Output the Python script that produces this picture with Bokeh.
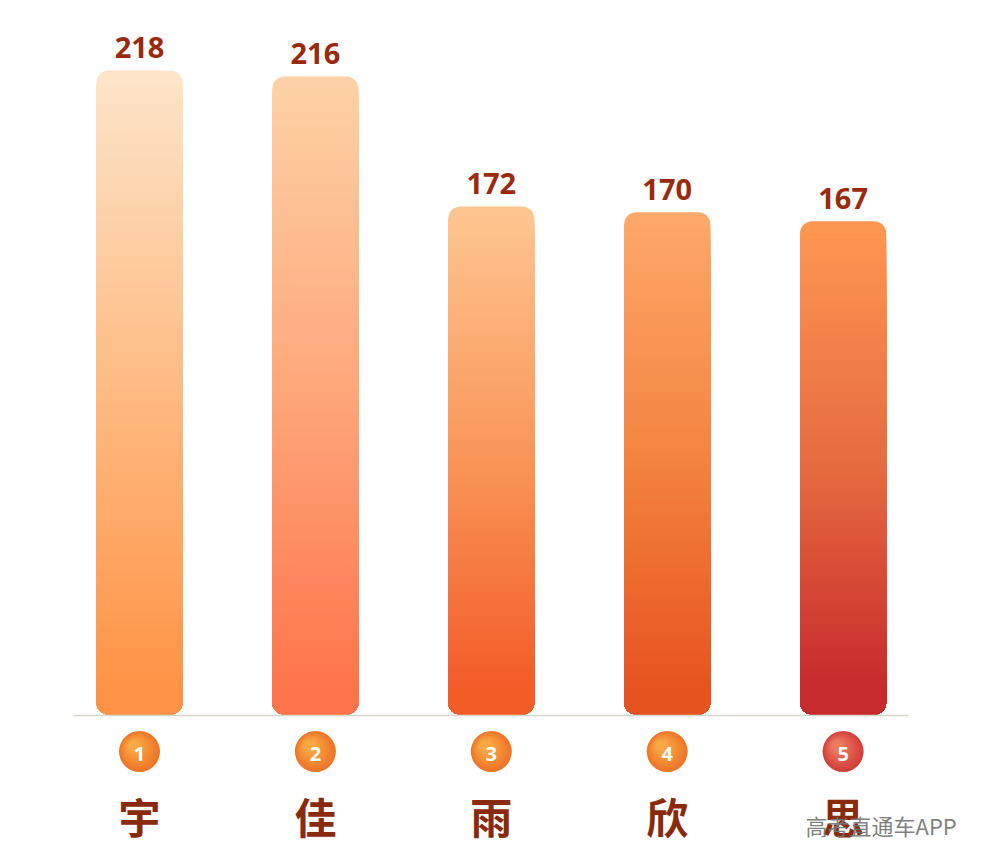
from bokeh.plotting import figure
from bokeh.embed import file_html
from bokeh.resources import INLINE
from bokeh.models import ColumnDataSource, Range1d
from bokeh.core.properties import value

# ---- data ----
names = ["宇", "佳", "雨", "欣", "思"]
ranks = ["1", "2", "3", "4", "5"]
scores = [218, 216, 172, 170, 167]
watermark = "高考直通车APP"

# ---- styles ----
bar_top = ["#FDE5CA", "#FDD2A6", "#FEC692", "#FEA96A", "#FE9852"]
bar_mid = ["#FEBA82", "#FEA67A", "#F99558", "#F3823F", "#E66A40"]
bar_bot = ["#FF9040", "#FF7048", "#F25522", "#E54E1C", "#C3232A"]
circ_edge = ["#EE7628", "#EE7628", "#EE7628", "#EE7628", "#D2403A"]
circ_hi = ["#F9A845", "#F9A845", "#F9A845", "#F9A845", "#EC7A60"]

W, H = 966, 848
X0_PX = 139.0        # pixel of first bar centre
DX_PX = 175.9        # pixels per category
Y0_PX = 714.0        # pixel (from top) of value 0
K = 2.954            # pixels per unit
BAR_W = 86 / DX_PX
RADIUS = 12


def hex2rgb(h):
    h = h.lstrip("#")
    return [int(h[i:i + 2], 16) for i in (0, 2, 4)]


def mix(c1, c2, t):
    a, b = hex2rgb(c1), hex2rgb(c2)
    return "#%02x%02x%02x" % tuple(int(round(a[i] + (b[i] - a[i]) * t)) for i in range(3))


def grad(i, f):
    # f: 0 at bottom, 1 at top
    if f >= 0.5:
        return mix(bar_mid[i], bar_top[i], (f - 0.5) / 0.5)
    return mix(bar_bot[i], bar_mid[i], f / 0.5)


p = figure(width=W, height=H, output_backend="svg", toolbar_location=None,
           x_range=Range1d(-X0_PX / DX_PX, (W - X0_PX) / DX_PX),
           y_range=Range1d(-(H - Y0_PX) / K, Y0_PX / K),
           min_border=0, min_border_left=0, min_border_right=0,
           min_border_top=0, min_border_bottom=0)
p.axis.visible = False
p.grid.visible = False
p.outline_line_color = None
p.background_fill_color = "white"
p.border_fill_color = "white"

xs = list(range(len(names)))

# full bars (top colour, all corners rounded)
p.vbar(x=xs, top=scores, bottom=0, width=BAR_W,
       fill_color=[grad(i, 0.99) for i in xs], line_color=None,
       border_radius=RADIUS)

# gradient slices
sx, st, sc = [], [], []
step = 3.0 / K
for i, v in enumerate(scores):
    t = v - RADIUS / K
    while t > 2 * RADIUS / K:
        sx.append(i)
        st.append(t)
        sc.append(grad(i, (t - step / 2) / v))
        t -= step
src = ColumnDataSource(dict(x=sx, top=st, color=sc))
p.vbar(x="x", top="top", bottom=0, width=BAR_W, source=src,
       fill_color="color", line_color=None,
       border_radius=(0, 0, RADIUS, RADIUS))

# base line
p.segment(x0=[(73 - X0_PX) / DX_PX], x1=[(908 - X0_PX) / DX_PX], y0=[-1 / K], y1=[-1 / K],
          line_color="#D9D5CA", line_width=1.5)

# value labels
p.text(x=xs, y=scores, text=[str(s) for s in scores], text_align="center",
       text_baseline="alphabetic", y_offset=-23,
       text_font=value("Open Sans"), text_font_style="bold",
       text_font_size="29px", text_color="#9A2A0C")

# rank circles (layered radial shading)
cy = -37 / K
p.scatter(x=xs, y=[cy] * 5, size=41, marker="circle",
          fill_color=circ_edge, line_color=None)
n_layers = 8
for k in range(1, n_layers + 1):
    f = k / n_layers
    size = 41 - 30 * f
    off = 6 * f
    cols = [mix(circ_edge[i], circ_hi[i], f) for i in xs]
    p.scatter(x=[x - off / DX_PX for x in xs], y=[cy + off / K] * 5, size=size,
              marker="circle", fill_color=cols, line_color=None)
p.text(x=xs, y=[cy] * 5, text=ranks, text_align="center", text_baseline="middle",
       y_offset=2, text_font=value("Open Sans"), text_font_style="bold",
       text_font_size="20px", text_color="white")

# names
p.text(x=xs, y=[0] * 5, text=names, text_align="center", text_baseline="middle",
       y_offset=101, text_font=value("Noto Sans CJK SC"), text_font_style="bold",
       text_font_size="42px", text_color="#8A2A0C")

# watermark
p.text(x=[(805 - X0_PX) / DX_PX], y=[-(824 - Y0_PX) / K], text=[watermark],
       text_align="left", text_baseline="middle",
       text_font=value("Noto Sans CJK SC"), text_font_size="22px",
       text_color="#787878", text_alpha=0.95)

open("out.html", "w").write(file_html(p, INLINE))
